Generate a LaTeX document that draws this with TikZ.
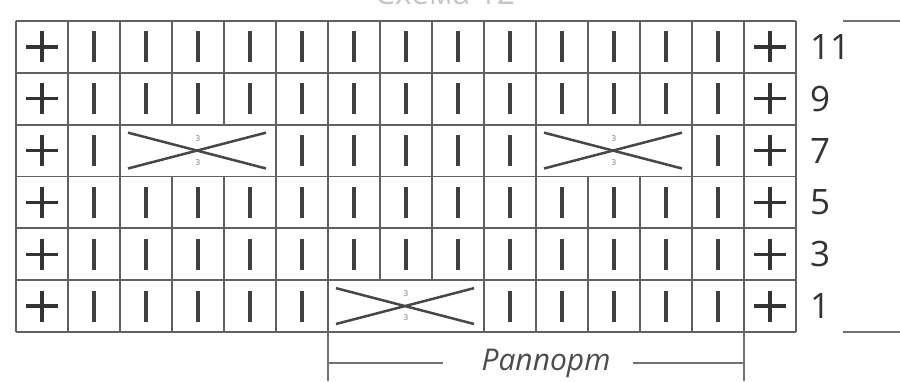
\documentclass[tikz,border=0pt]{standalone}
\usepackage{fontspec}
\setmainfont{Open Sans}
\begin{document}
\begin{tikzpicture}[x=1pt,y=-1pt,
  gridline/.style={draw=black!62, line width=1.8pt},
  knit/.style={draw=black!75, line width=3.1pt},
  purl/.style={draw=black!80, line width=3.3pt},
  cable/.style={draw=black!72, line width=2.5pt},
  tiny/.style={font=\fontsize{8}{8}\selectfont, text=black!55, inner sep=0pt},
  rowno/.style={anchor=west, font=\fontsize{35}{35}\selectfont, text=black!80, inner sep=0pt},
  side/.style={draw=black!55, line width=1.6pt},
]
\useasboundingbox (0,0) rectangle (900,381);
\def\cw{52}
\def\rh{51.83}
% title (cut off by top edge)
\begin{scope}
\clip (0,0) rectangle (900,381);
\node[anchor=base, font=\fontsize{32}{32}\selectfont, text=black!22, inner sep=0pt] (title) at (445,4) {Схема 12};
\end{scope}
% horizontal grid lines
\foreach \r in {0,...,6} {
  \draw[gridline] (16,{21+\rh*\r}) -- (796,{21+\rh*\r});
}
% vertical grid lines per row
\foreach \r/\bl in {0/{0,1,...,15},1/{0,1,...,15},2/{0,1,2,5,6,7,8,9,10,13,14,15},3/{0,1,...,15},4/{0,1,...,15},5/{0,1,2,3,4,5,6,9,10,11,12,13,14,15}} {
  \foreach \c in \bl {
    \draw[gridline] ({16+\cw*\c},{21+\rh*\r}) -- ({16+\cw*\c},{21+\rh*(\r+1)});
  }
}
% edge stitches (+)
\foreach \r in {0,...,5} {
  \foreach \c in {0,14} {
    \draw[purl] ({16+\cw*\c+26-16},{21+\rh*\r+\rh/2}) -- ({16+\cw*\c+26+16},{21+\rh*\r+\rh/2});
    \draw[purl] ({16+\cw*\c+26},{21+\rh*\r+\rh/2-15.5}) -- ({16+\cw*\c+26},{21+\rh*\r+\rh/2+15.5});
  }
}
% knit stitches (|)
\foreach \r/\kl in {0/{1,...,13},1/{1,...,13},2/{1,5,6,7,8,9,13},3/{1,...,13},4/{1,...,13},5/{1,2,3,4,5,9,10,11,12,13}} {
  \foreach \c in \kl {
    \draw[knit] ({16+\cw*\c+26},{21+\rh*\r+\rh/2-15.5}) -- ({16+\cw*\c+26},{21+\rh*\r+\rh/2+15.5});
  }
}
% cables
\foreach \r/\c in {2/2,2/10,5/6} {
  \draw[cable] ({16+\cw*\c+8},{21+\rh*\r+8}) -- ({16+\cw*(\c+3)-10},{21+\rh*(\r+1)-8});
  \draw[cable] ({16+\cw*\c+8},{21+\rh*(\r+1)-8}) -- ({16+\cw*(\c+3)-10},{21+\rh*\r+8});
  \node[tiny] at ({16+\cw*(\c+1.5)},{21+\rh*\r+\rh/2-12}) {3};
  \node[tiny] at ({16+\cw*(\c+1.5)},{21+\rh*\r+\rh/2+12}) {3};
}
% row numbers
\node[rowno] (n11) at (810,{21+\rh*0.5}) {11};
\node[rowno] (n9) at (810,{21+\rh*1.5}) {9};
\node[rowno] (n7) at (810,{21+\rh*2.5}) {7};
\node[rowno] (n5) at (810,{21+\rh*3.5}) {5};
\node[rowno] (n3) at (810,{21+\rh*4.5}) {3};
\node[rowno] (n1) at (810,{21+\rh*5.5}) {1};
% side lines
\coordinate (st1) at (843,21);
\coordinate (st2) at (900,21);
\coordinate (sb1) at (843,332);
\coordinate (sb2) at (900,332);
\draw[side] (st1) -- (st2);
\draw[side] (sb1) -- (sb2);
% rapport bracket
\node[font=\fontsize{30}{30}\selectfont\itshape, text=black!70, inner sep=0pt] (rap) at (546,363) {Раппорт};
\coordinate (ra) at (328,332);
\coordinate (rb) at (328,381);
\coordinate (rc) at (744,332);
\coordinate (rd) at (744,381);
\coordinate (la) at (328,363);
\coordinate (lb) at (443,363);
\coordinate (lc) at (633,363);
\coordinate (ld) at (744,363);
\draw[side] (ra) -- (rb);
\draw[side] (rc) -- (rd);
\draw[side] (la) -- (lb);
\draw[side] (lc) -- (ld);
\end{tikzpicture}
\end{document}
